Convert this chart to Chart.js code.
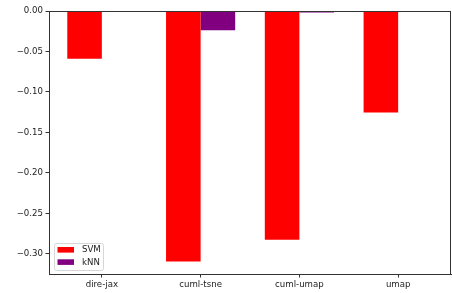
<!DOCTYPE html>
<html>
<head>
<meta charset="utf-8">
<script src="https://cdn.jsdelivr.net/npm/chart.js@4/dist/chart.umd.min.js"></script>
<style>
html,body{margin:0;padding:0;background:#fff;}
#wrap{width:452px;height:293px;position:relative;}
</style>
</head>
<body>
<div id="wrap"><canvas id="c" width="452" height="293"></canvas></div>
<script>
const categories = ["dire-jax", "cuml-tsne", "cuml-umap", "umap"];
const svmValues = [-0.059, -0.3095, -0.2825, -0.1255];
const knnValues = [0.0, -0.0237, -0.0018, 0.0];
const yTicks = [0, -0.05, -0.10, -0.15, -0.20, -0.25, -0.30];
const seriesNames = ["SVM", "kNN"];
const seriesColors = ["#ff0000", "#800080"];

const FONT = "'DejaVu Sans', sans-serif";
const AXIS = "#333333";

function toPoints(vals){ return vals.map((v,i)=>({x:i, y:v})); }

const frame = {
  id: 'frame',
  afterDraw(chart){
    const {ctx, chartArea:a} = chart;
    ctx.save();
    ctx.strokeStyle = AXIS;
    ctx.lineWidth = 1;
    ctx.beginPath();
    ctx.moveTo(a.left, a.top + 0.5); ctx.lineTo(a.right, a.top + 0.5);
    ctx.moveTo(a.right - 0.5, a.top); ctx.lineTo(a.right - 0.5, a.bottom);
    ctx.stroke();
    // legend
    const lx = 54, ly = 243, lw = 49, lh = 27;
    ctx.fillStyle = 'rgba(255,255,255,0.8)';
    ctx.strokeStyle = '#d6d6d6';
    ctx.beginPath();
    if (ctx.roundRect) ctx.roundRect(lx + 0.5, ly + 0.5, lw, lh, 2); else ctx.rect(lx + 0.5, ly + 0.5, lw, lh);
    ctx.fill(); ctx.stroke();
    ctx.font = "8.6px " + FONT;
    ctx.textBaseline = 'middle';
    chart.data.datasets.forEach((ds, i) => {
      const y = ly + 4 + i * 12.3;
      ctx.fillStyle = ds.backgroundColor;
      ctx.fillRect(lx + 3.5, y, 16.5, 5.6);
      ctx.fillStyle = '#222';
      ctx.fillText(ds.label, lx + 28, y + 3);
    });
    ctx.restore();
  }
};

new Chart(document.getElementById('c'), {
  type: 'bar',
  data: {
    datasets: [
      { label: seriesNames[0], data: toPoints(svmValues), backgroundColor: seriesColors[0], borderWidth: 0 },
      { label: seriesNames[1], data: toPoints(knnValues), backgroundColor: seriesColors[1], borderWidth: 0 }
    ]
  },
  options: {
    responsive: false,
    animation: false,
    devicePixelRatio: 1,
    categoryPercentage: 0.7,
    barPercentage: 1.0,
    layout: { padding: { top: 11, right: 1, left: 0, bottom: 0 } },
    plugins: { legend: { display: false }, tooltip: { enabled: false }, title: { display: false } },
    scales: {
      x: {
        type: 'linear',
        offset: false,
        min: -0.535,
        max: 3.535,
        afterBuildTicks(scale){ scale.ticks = categories.map((c,i)=>({value:i})); },
        afterFit(scale){ scale.height = 19; },
        ticks: {
          callback: (v) => categories[v],
          font: { family: FONT, size: 8.6 },
          color: '#222',
          padding: 2,
          maxRotation: 0,
          autoSkip: false
        },
        grid: { display: true, offset: false, drawOnChartArea: false, drawTicks: true, tickLength: 3.5, color: AXIS, lineWidth: 1 },
        border: { display: true, color: AXIS, width: 1 }
      },
      y: {
        type: 'linear',
        min: -0.3248,
        max: 0,
        afterBuildTicks(scale){ scale.ticks = yTicks.map(v=>({value:v})); },
        afterFit(scale){ scale.width = 49; },
        ticks: {
          callback: (v) => (v < 0 ? '\u2212' : '') + Math.abs(v).toFixed(2),
          font: { family: FONT, size: 8.6 },
          color: '#222',
          padding: 2.5
        },
        grid: { display: true, drawOnChartArea: false, drawTicks: true, tickLength: 3.5, color: AXIS, lineWidth: 1 },
        border: { display: true, color: AXIS, width: 1 }
      }
    }
  },
  plugins: [frame]
});
</script>
</body>
</html>
